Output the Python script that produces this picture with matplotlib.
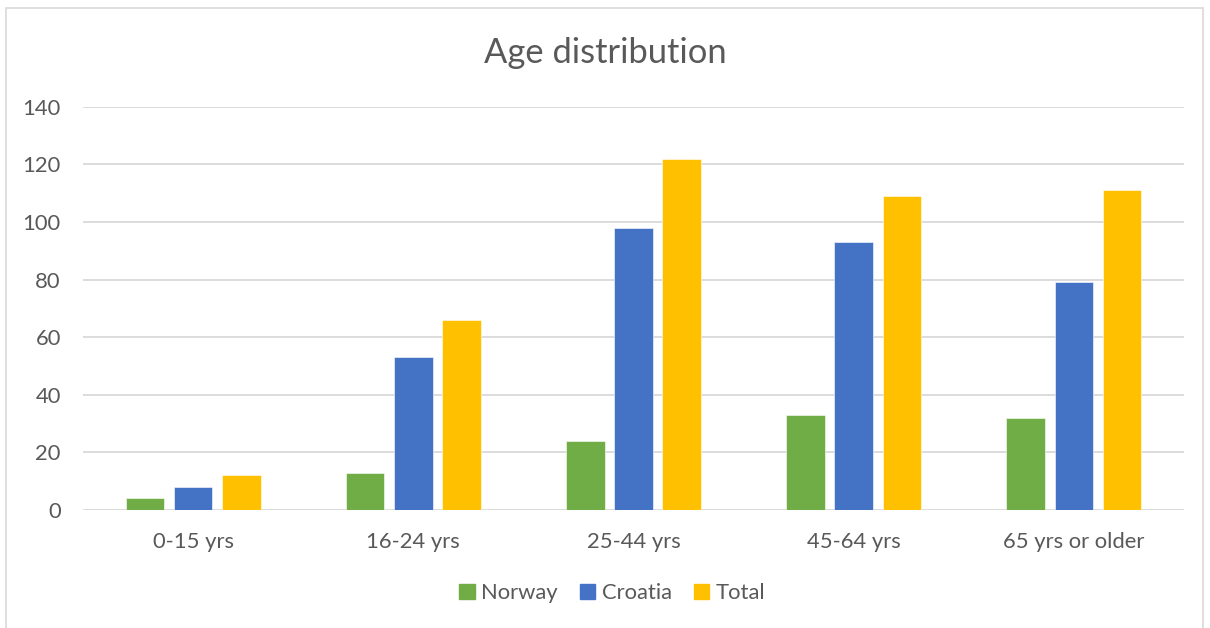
import matplotlib
matplotlib.use("Agg")
import matplotlib.pyplot as plt
import numpy as np
from matplotlib.patches import Rectangle

categories = ["0-15 yrs", "16-24 yrs", "25-44 yrs", "45-64 yrs", "65 yrs or older"]
series_names = ["Norway", "Croatia", "Total"]
norway = [4, 13, 24, 33, 32]
croatia = [8, 53, 98, 93, 79]
total = [12, 66, 122, 109, 111]
yticks = [0, 20, 40, 60, 80, 100, 120, 140]

colors = ["#70AD47", "#4472C4", "#FFC000"]
text_color = "#595959"
grid_color = "#D9D9D9"

plt.rcParams['font.family'] = ['Lato', 'DejaVu Sans']

fig = plt.figure(figsize=(12.1, 6.28), dpi=100)
ax = fig.add_axes([83/1210, 1 - 510/628, (1184-83)/1210, (510-106.7)/628])

x = np.arange(len(categories))
width = 0.175
offset = 0.219
data = [norway, croatia, total]
for i, (vals, name, c) in enumerate(zip(data, series_names, colors)):
    ax.bar(x + (i - 1) * offset, vals, width, color=c, label=name, zorder=3,
           edgecolor='white', linewidth=0.4)

ax.set_xlim(-0.5, len(categories) - 0.5)
ax.set_ylim(0, 140)
ax.set_yticks(yticks)
ax.set_xticks(x)
ax.set_xticklabels(categories)
ax.tick_params(axis='both', length=0, labelsize=15.8, colors=text_color)
ax.tick_params(axis='y', pad=16)
ax.tick_params(axis='x', pad=16)
ax.grid(axis='y', color=grid_color, linewidth=1.3, zorder=0)
for s in ax.spines.values():
    s.set_visible(False)

fig.text(0.5, 1 - 53/628, "Age distribution", ha='center', va='center',
         fontsize=24.8, color=text_color)

handles = [Rectangle((0, 0), 1, 1, color=c) for c in colors]
fig.legend(handles, series_names, loc='center', bbox_to_anchor=(0.506, 1 - 593/628),
           ncol=3, frameon=False, fontsize=15.8, labelcolor=text_color,
           handlelength=0.7, handleheight=0.7, handletextpad=0.3, columnspacing=1.0)

border = Rectangle((6/1210, -0.01), (1203-6)/1210, 1 - 8/628 + 0.01, transform=fig.transFigure,
                   fill=False, edgecolor=grid_color, linewidth=1.2)
fig.patches.append(border)

fig.savefig("out.png", dpi=100, facecolor='white')
